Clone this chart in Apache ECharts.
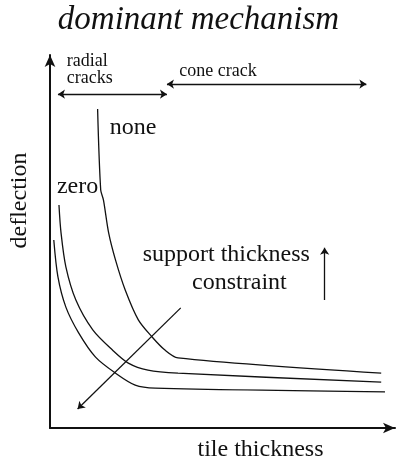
<!DOCTYPE html>
<html>
<head>
<meta charset="utf-8">
<script src="https://cdn.jsdelivr.net/npm/echarts@6/dist/echarts.min.js"></script>
<style>
  html, body { margin: 0; padding: 0; background: #fff; }
  #chart { width: 397px; height: 472px; }
</style>
</head>
<body>
<div id="chart"></div>
<script>
// Schematic deflection vs tile thickness curves for three support constraints
const curveNone = [[13.8, 85.5], [14.7, 63.8], [15.5, 61.1], [17.0, 52.3], [19.0, 45.0], [21.8, 37.0], [25.6, 29.0], [29.6, 24.4], [33.3, 20.9], [37.1, 18.8], [96.0, 14.7]];
const curveMid  = [[2.6, 59.8], [3.2, 52.3], [4.6, 43.2], [7.5, 34.3], [12.4, 26.3], [18.1, 20.9], [22.7, 17.4], [28.4, 15.5], [37.1, 14.7], [96.0, 12.3]];
const curveZero = [[1.1, 50.4], [2.3, 40.5], [4.6, 32.4], [8.3, 25.5], [13.2, 19.0], [19.0, 14.7], [24.7, 11.5], [30.5, 10.7], [97.1, 9.7]];

// Annotation arrows: [from, to]
const rangeArrows = [
  [[2.3, 89.5], [33.9, 89.5]],   // radial cracks
  [[33.9, 92.2], [91.7, 92.2]]   // cone crack
];
const trendArrow = [[37.9, 32.2], [8.0, 5.1]];
const upArrow = [[79.6, 34.3], [79.6, 48.3]];

// Text annotations, centred on [x, y]
const smallLabels = [[10.8, 98.4, 'radial'], [11.5, 93.8, 'cracks'], [48.7, 95.7, 'cone crack']];
const bigLabels = [[24.1, 80.4, 'none'], [8.0, 64.6, 'zero'], [51.1, 46.4, 'support thickness'], [54.9, 38.9, 'constraint']];

const serif = 'Liberation Serif';

const chart = echarts.init(document.getElementById('chart'));

function curve(data) {
  return {
    type: 'line', data: data, smooth: 0.3, symbol: 'none',
    lineStyle: { color: '#111', width: 1.3 }, silent: true
  };
}

function arrowLines(pairs, both) {
  return {
    type: 'lines', coordinateSystem: 'cartesian2d', silent: true,
    symbol: both ? ['arrow', 'arrow'] : ['none', 'arrow'],
    symbolSize: 7,
    lineStyle: { color: '#111', width: 1.3, opacity: 1 },
    data: pairs.map(p => ({ coords: p }))
  };
}

function textSeries(items, size) {
  return {
    type: 'scatter', symbolSize: 0, silent: true,
    itemStyle: { opacity: 1, color: '#111' },
    data: items.map(d => ({ value: [d[0], d[1]], name: d[2] })),
    label: {
      show: true, position: 'inside',
      formatter: p => p.name,
      fontFamily: serif, fontSize: size, color: '#111', opacity: 1
    }
  };
}

chart.setOption({
  animation: false,
  backgroundColor: '#fff',
  title: {
    text: 'dominant mechanism', left: 'center', top: -1,
    textStyle: { fontFamily: serif, fontStyle: 'italic', fontWeight: 'normal', fontSize: 33, color: '#111' }
  },
  grid: { left: 49, right: 2, top: 55, bottom: 44 },
  xAxis: {
    type: 'value', min: 0, max: 100,
    name: 'tile thickness', nameLocation: 'middle', nameGap: 10,
    nameTextStyle: { fontFamily: serif, fontSize: 24, color: '#111', padding: [0, 0, 0, 76] },
    axisLine: { lineStyle: { color: '#111', width: 2 }, symbol: ['none', 'arrow'], symbolSize: [8, 12] },
    axisTick: { show: false }, axisLabel: { show: false }, splitLine: { show: false }
  },
  yAxis: {
    type: 'value', min: 0, max: 100,
    name: 'deflection', nameLocation: 'middle', nameGap: 18,
    nameTextStyle: { fontFamily: serif, fontSize: 24, color: '#111', padding: [0, 0, 0, 82] },
    axisLine: { lineStyle: { color: '#111', width: 2 }, symbol: ['none', 'arrow'], symbolSize: [8, 12] },
    axisTick: { show: false }, axisLabel: { show: false }, splitLine: { show: false }
  },
  series: [
    curve(curveNone), curve(curveMid), curve(curveZero),
    arrowLines(rangeArrows, true),
    arrowLines([trendArrow], false),
    arrowLines([upArrow], false),
    textSeries(smallLabels, 18),
    textSeries(bigLabels, 24)
  ]
});
</script>
</body>
</html>
